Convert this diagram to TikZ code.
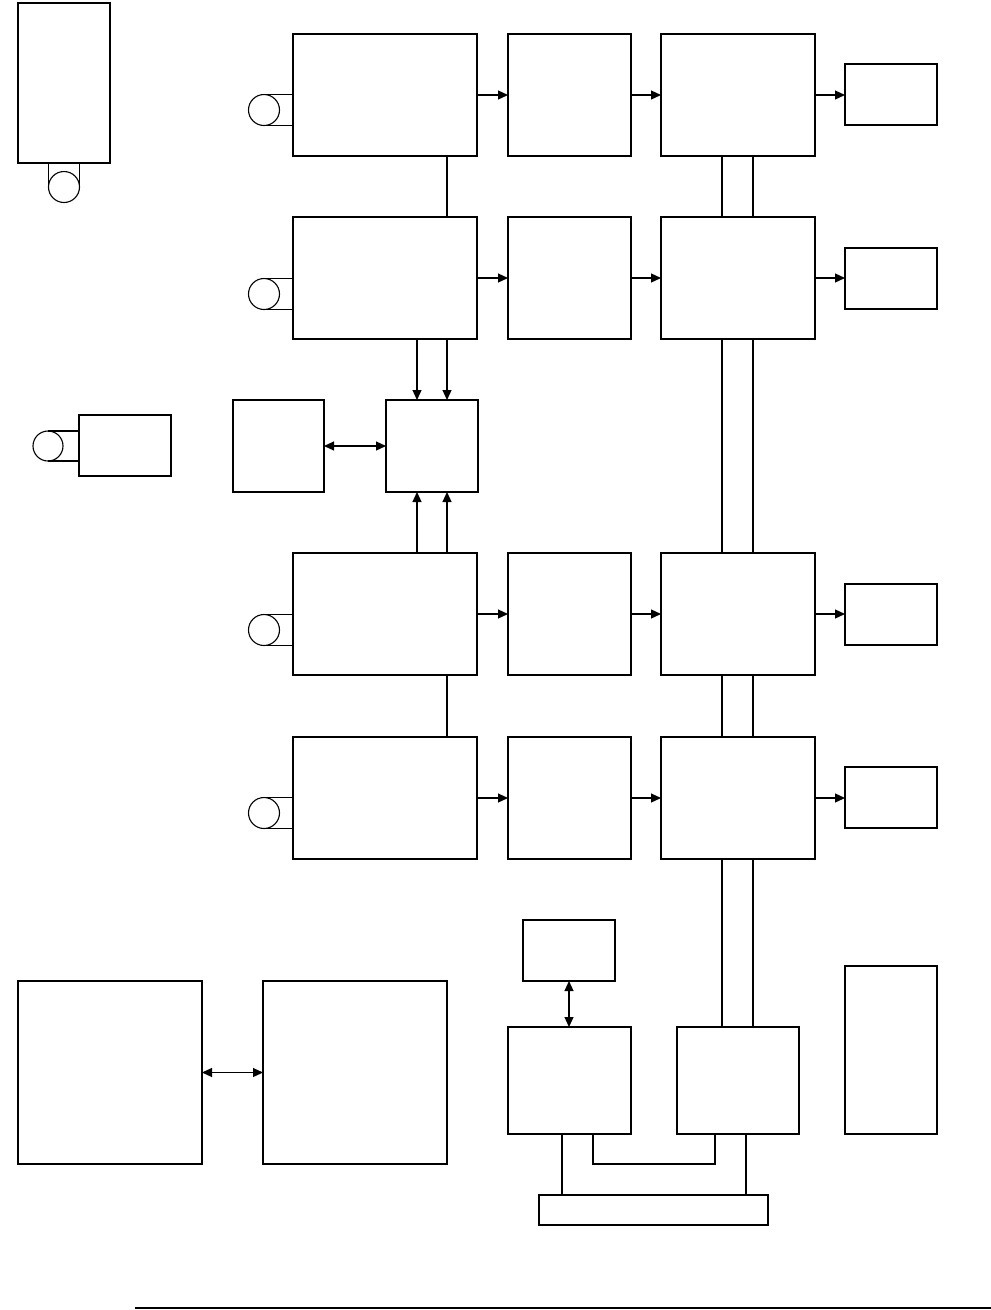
\documentclass[tikz,border=0pt]{standalone}
\usetikzlibrary{arrows.meta}
\tikzset{
  box/.style={draw, line width=1.3pt, fill=white, inner sep=0pt, outer sep=0pt},
  roll/.style={draw, circle, line width=1.1pt, inner sep=0pt, outer sep=0pt, minimum size=31pt},
  wire/.style={line width=1.2pt},
  arr/.style={wire, -{Triangle[length=10pt,width=9pt]}},
  darr/.style={wire, {Triangle[length=10pt,width=9pt]}-{Triangle[length=10pt,width=9pt]}},
}
\newcommand\bx[5]{\node[box, minimum width={(#4)-(#2)}, minimum height={(#5)-(#3)}] (#1) at ({((#2)+(#4))/2},{((#3)+(#5))/2}) {};}
\begin{document}
\begin{tikzpicture}[x=1pt,y=-1pt]
\useasboundingbox (0,0) rectangle (991,1310);
% top-left box with roll
\bx{T}{18}{3}{110}{163}
\node[roll] (c0) at (64,187) {};
\draw[wire] (c0.west) -- (c0.west |- T.south);
\draw[wire] (c0.east) -- (c0.east |- T.south);
% left small box with roll
\bx{G}{79}{415}{171}{476}
\node[roll, minimum size=30pt] (cg) at (48,446) {};
\draw[wire] (cg.north) -- (cg.north -| G.west);
\draw[wire] (cg.south) -- (cg.south -| G.west);
% rows
\bx{A1}{293}{34}{477}{156}
\bx{B1}{508}{34}{631}{156}
\bx{C1}{661}{34}{815}{156}
\bx{D1}{845}{64}{937}{125}
\bx{A2}{293}{217}{477}{339}
\bx{B2}{508}{217}{631}{339}
\bx{C2}{661}{217}{815}{339}
\bx{D2}{845}{248}{937}{309}
\bx{A3}{293}{553}{477}{675}
\bx{B3}{508}{553}{631}{675}
\bx{C3}{661}{553}{815}{675}
\bx{D3}{845}{584}{937}{645}
\bx{A4}{293}{737}{477}{859}
\bx{B4}{508}{737}{631}{859}
\bx{C4}{661}{737}{815}{859}
\bx{D4}{845}{767}{937}{828}
% rolls on row boxes
\node[roll] (r1) at (264,110) {};
\node[roll] (r2) at (264,294) {};
\node[roll] (r3) at (264,630) {};
\node[roll] (r4) at (264,813) {};
\foreach \r/\a in {r1/A1,r2/A2,r3/A3,r4/A4}{
  \draw[wire] (\r.north) -- (\r.north -| \a.west);
  \draw[wire] (\r.south) -- (\r.south -| \a.west);
}
% row arrows
\foreach \i in {1,2,3,4}{
  \draw[arr] (A\i.east) -- (B\i.west);
  \draw[arr] (B\i.east) -- (C\i.west);
  \draw[arr] (C\i.east) -- (C\i.east -| D\i.west);
}
% middle boxes
\bx{F}{233}{400}{324}{492}
\bx{E}{386}{400}{478}{492}
\draw[darr] (F.east) -- (E.west);
\draw[arr] ([xshift=-15pt]E.north |- A2.south) -- ([xshift=-15pt]E.north);
\draw[arr] ([xshift=15pt]E.north |- A2.south) -- ([xshift=15pt]E.north);
\draw[arr] ([xshift=-15pt]E.south |- A3.north) -- ([xshift=-15pt]E.south);
\draw[arr] ([xshift=15pt]E.south |- A3.north) -- ([xshift=15pt]E.south);
% A links
\draw[wire] ([xshift=-30pt]A1.south east) -- ([xshift=-30pt]A2.north east);
\draw[wire] ([xshift=-30pt]A3.south east) -- ([xshift=-30pt]A4.north east);
% bottom group
\bx{I}{523}{920}{615}{981}
\bx{J}{508}{1027}{631}{1134}
\bx{H}{677}{1027}{799}{1134}
\bx{K}{845}{966}{937}{1134}
\bx{L}{539}{1195}{768}{1225}
\draw[darr] (I.south) -- (I.south |- J.north);
% C column double lines
\foreach \s in {-16,15}{
  \draw[wire] ([xshift=\s pt]C1.south) -- ([xshift=\s pt]C2.north);
  \draw[wire] ([xshift=\s pt]C2.south) -- ([xshift=\s pt]C3.north);
  \draw[wire] ([xshift=\s pt]C3.south) -- ([xshift=\s pt]C4.north);
  \draw[wire] ([xshift=\s pt]C4.south) -- ([xshift=\s pt]C4.south |- H.north);
}
% bus connections
\draw[wire] ([xshift=-7.5pt]J.south) -- ([xshift=-7.5pt]J.south |- L.north);
\draw[wire] ([xshift=23.5pt]J.south) -- ++(0,30) -| ([xshift=-23pt]H.south);
\draw[wire] ([xshift=8pt]H.south) -- ([xshift=8pt]H.south |- L.north);
% big bottom-left boxes
\bx{M}{18}{981}{202}{1164}
\bx{N}{263}{981}{447}{1164}
\draw[darr] (M.east) -- (N.west);
% rule at bottom
\coordinate (q0) at (135,1308);
\coordinate (q1) at (991,1308);
\draw[line width=1.3pt] (q0) -- (q1);
\end{tikzpicture}
\end{document}
